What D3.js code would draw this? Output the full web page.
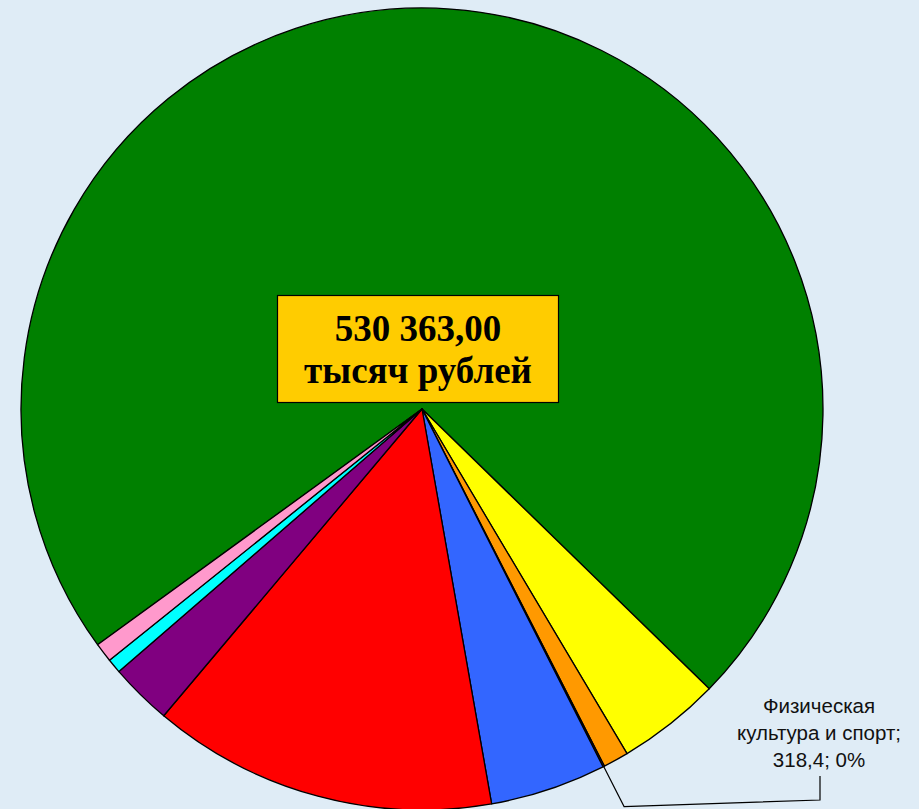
<!DOCTYPE html>
<html>
<head>
<meta charset="utf-8">
<script src="https://d3js.org/d3.v7.min.js"></script>
<style>
  html, body { margin: 0; padding: 0; background: #dfecf6; }
  svg { display: block; }
</style>
</head>
<body>
<div id="chart"></div>
<script>
// Budget structure, thousand roubles
const categories = [
  'Образование',
  'Культура',
  'Социальная политика',
  'Физическая культура и спорт',
  'Жилищно-коммунальное хозяйство',
  'Общегосударственные вопросы',
  'Национальная экономика',
  'Национальная безопасность',
  'Национальная оборона'
];
const values = [383407.6, 22098, 5451, 318.4, 24800, 73810, 13259, 3094, 4125];
const colors = ['#008000', '#ffff00', '#ff9900', '#993366', '#3366ff', '#ff0000', '#800080', '#00ffff', '#ff99cc'];
const totalLines = ['530 363,00', 'тысяч рублей'];
const calloutIndex = 3;
const calloutLines = ['Физическая', 'культура и спорт;', '318,4; 0%'];

const width = 919, height = 809;
const cx = 422, cy = 409, radius = 401;
const startDeg = -126;

const svg = d3.select('#chart').append('svg')
  .attr('width', width)
  .attr('height', height);

svg.append('rect')
  .attr('width', width)
  .attr('height', height)
  .attr('fill', '#dfecf6');

const data = categories.map((c, i) => ({ name: c, value: values[i], color: colors[i] }));

const pie = d3.pie()
  .value(d => d.value)
  .sort(null)
  .startAngle(startDeg * Math.PI / 180)
  .endAngle(startDeg * Math.PI / 180 + 2 * Math.PI);

const arc = d3.arc().innerRadius(0).outerRadius(radius);
const arcs = pie(data);

const g = svg.append('g').attr('transform', `translate(${cx},${cy})`);

g.selectAll('path.slice')
  .data(arcs)
  .enter()
  .append('path')
  .attr('class', 'slice')
  .attr('d', arc)
  .attr('fill', d => d.data.color)
  .attr('stroke', '#000')
  .attr('stroke-width', 1.3)
  .attr('stroke-linejoin', 'round');

// Leader line for the tiny slice
const a = arcs[calloutIndex];
const mid = (a.startAngle + a.endAngle) / 2;
const p0 = [radius * Math.sin(mid), -radius * Math.cos(mid)];
const p1 = [(radius + 45) * Math.sin(mid), -(radius + 45) * Math.cos(mid)];
const labelX = 820 - cx, labelY = 800 - cy;

g.append('path')
  .attr('d', `M${p0[0]},${p0[1]} L${p1[0]},${p1[1]} L${labelX},${labelY} L${labelX},${776 - cy}`)
  .attr('fill', 'none')
  .attr('stroke', '#000')
  .attr('stroke-width', 1.2);

svg.append('text')
  .attr('x', 819)
  .attr('y', 713)
  .attr('text-anchor', 'middle')
  .style('font-family', 'Arial, "Liberation Sans", sans-serif')
  .style('font-size', '20.5px')
  .style('fill', '#111')
  .selectAll('tspan')
  .data(calloutLines)
  .enter()
  .append('tspan')
  .attr('x', 819)
  .attr('dy', (d, i) => i === 0 ? 0 : 27)
  .text(d => d);

// Total box in the middle
svg.append('rect')
  .attr('x', 277.5)
  .attr('y', 295.5)
  .attr('width', 281)
  .attr('height', 107)
  .attr('fill', '#ffcc00')
  .attr('stroke', '#000')
  .attr('stroke-width', 1.2);

svg.append('text')
  .attr('text-anchor', 'middle')
  .style('font-family', '"Times New Roman", "Liberation Serif", serif')
  .style('font-weight', 'bold')
  .style('font-size', '37px')
  .style('fill', '#000')
  .selectAll('tspan')
  .data(totalLines)
  .enter()
  .append('tspan')
  .attr('x', 418)
  .attr('y', (d, i) => 341 + i * 42)
  .text(d => d);
</script>
</body>
</html>
